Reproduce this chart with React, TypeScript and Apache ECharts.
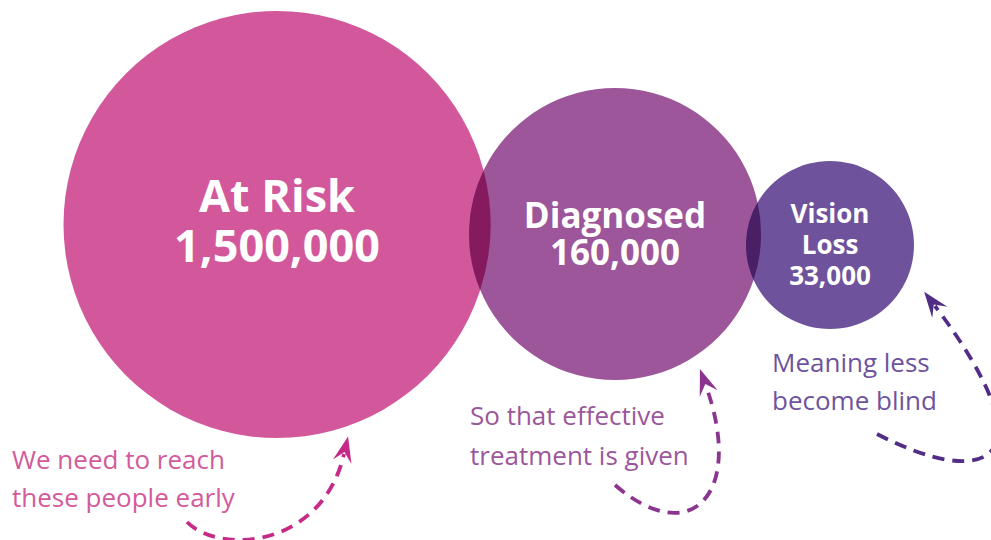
import React, { useEffect, useRef } from "react";
import * as echarts from "echarts";

// ---- data ----
const categories = ["At Risk", "Diagnosed", "Vision Loss"];
const peopleCounts = [1500000, 160000, 33000];
const captionLines = [
  ["We need to reach", "these people early"],
  ["So that effective", "treatment is given"],
  ["Meaning less", "become blind"],
];

// ---- layout & style (pixel space of the 991x540 canvas) ----
const W = 991;
const H = 540;
const bubbleLayout = [
  { cx: 277, cy: 224.5, r: 213.5, color: "#D3589B", fontSize: 45, blockOffset: -5, lineHeight: 50, wrap: false },
  { cx: 615, cy: 234, r: 146, color: "#9C5699", fontSize: 35, blockOffset: -1.5, lineHeight: 37, wrap: false },
  { cx: 830, cy: 245, r: 84, color: "#6E539C", fontSize: 26, blockOffset: -1, lineHeight: 31, wrap: true },
];
const overlapColors = ["", "#861A5E", "#4A1F66"];
const captionLayout = [
  { x: 12, y: 459, lineHeight: 38, color: "#D35A9B" },
  { x: 470, y: 415, lineHeight: 40, color: "#9B579B" },
  { x: 772, y: 362, lineHeight: 38, color: "#6E539C" },
];
const arrowLayout = [
  { p0: [187, 522], p1: [220, 555], p2: [322, 548], p3: [344, 454], color: "#C62A87" },
  { p0: [615, 485], p1: [690, 550], p2: [745, 495], p3: [706, 386], color: "#8B3590" },
  { p0: [877, 434], p1: [985, 490], p2: [1055, 465], p3: [935, 306], color: "#512D86" },
];

const FONT = '"Open Sans", "Noto Sans", sans-serif';

function arrowElements() {
  const els: any[] = [];
  arrowLayout.forEach((a) => {
    els.push({
      type: "bezierCurve",
      shape: {
        x1: a.p0[0], y1: a.p0[1],
        cpx1: a.p1[0], cpy1: a.p1[1],
        cpx2: a.p2[0], cpy2: a.p2[1],
        x2: a.p3[0], y2: a.p3[1],
      },
      style: { stroke: a.color, lineWidth: 3.8, lineDash: [12, 8], fill: null },
      silent: true,
    });
    const dx = a.p3[0] - a.p2[0];
    const dy = a.p3[1] - a.p2[1];
    const len = Math.sqrt(dx * dx + dy * dy);
    const ux = dx / len;
    const uy = dy / len;
    const px = -uy;
    const py = ux;
    const tip = [a.p3[0] + ux * 18, a.p3[1] + uy * 18];
    const back = 26;
    const half = 9.5;
    const notch = 16;
    els.push({
      type: "polygon",
      shape: {
        points: [
          tip,
          [tip[0] - ux * back + px * half, tip[1] - uy * back + py * half],
          [tip[0] - ux * notch, tip[1] - uy * notch],
          [tip[0] - ux * back - px * half, tip[1] - uy * back - py * half],
        ],
      },
      style: { fill: a.color },
      silent: true,
    });
  });
  return els;
}

function captionElements() {
  const els: any[] = [];
  captionLines.forEach((lines, i) => {
    const c = captionLayout[i];
    els.push({
      type: "text",
      x: c.x,
      y: c.y - c.lineHeight / 2,
      style: {
        text: lines.join("\n"),
        fill: c.color,
        fontSize: 26,
        lineHeight: c.lineHeight,
        fontFamily: FONT,
        fontWeight: "normal",
        textAlign: "left",
        textVerticalAlign: "top",
        align: "left",
        verticalAlign: "top",
      },
      silent: true,
    });
  });
  return els;
}

function lensPath(x1: number, y1: number, r1: number, x2: number, y2: number, r2: number) {
  const dx = x2 - x1;
  const dy = y2 - y1;
  const d = Math.sqrt(dx * dx + dy * dy);
  const a = (r1 * r1 - r2 * r2 + d * d) / (2 * d);
  const h = Math.sqrt(Math.max(r1 * r1 - a * a, 0));
  const ex = dx / d;
  const ey = dy / d;
  const px = x1 + a * ex;
  const py = y1 + a * ey;
  const top = [px + h * ey, py - h * ex];
  const bot = [px - h * ey, py + h * ex];
  return (
    `M${top[0]} ${top[1]} ` +
    `A${r1} ${r1} 0 0 1 ${bot[0]} ${bot[1]} ` +
    `A${r2} ${r2} 0 0 1 ${top[0]} ${top[1]} Z`
  );
}

export default function App() {
  const ref = useRef<HTMLDivElement>(null);

  useEffect(() => {
    document.body.style.margin = "0";
    if (!ref.current) return;
    const chart = echarts.init(ref.current, undefined, { renderer: "svg" });

    const seriesData = categories.map((name, i) => ({
      name,
      value: [bubbleLayout[i].cx, bubbleLayout[i].cy, bubbleLayout[i].r, peopleCounts[i]],
    }));

    chart.setOption({
      animation: false,
      backgroundColor: "#ffffff",
      grid: { left: 0, right: 0, top: 0, bottom: 0 },
      xAxis: { type: "value", min: 0, max: W, show: false },
      yAxis: { type: "value", min: 0, max: H, inverse: true, show: false },
      series: [
        {
          type: "custom",
          coordinateSystem: "cartesian2d",
          data: seriesData,
          silent: true,
          renderItem: (params: any, api: any) => {
            const i = params.dataIndex;
            const L = bubbleLayout[i];
            const c = api.coord([api.value(0), api.value(1)]);
            const r = api.size([api.value(2), 0])[0];
            const children: any[] = [
              { type: "circle", shape: { cx: c[0], cy: c[1], r }, style: { fill: L.color } },
            ];
            if (i > 0) {
              const P = bubbleLayout[i - 1];
              const pc = api.coord([P.cx, P.cy]);
              const pr = api.size([P.r, 0])[0];
              children.push({
                type: "path",
                shape: { pathData: lensPath(pc[0], pc[1], pr, c[0], c[1], r) },
                style: { fill: overlapColors[i] },
              });
            }
            const name = categories[i];
            const nameLines = L.wrap ? name.split(" ") : [name];
            const lines = [...nameLines, Number(api.value(3)).toLocaleString("en-US")];
            children.push({
              type: "text",
              x: c[0],
              y: c[1] + L.blockOffset,
              style: {
                text: lines.join("\n"),
                fill: "#ffffff",
                fontSize: L.fontSize,
                lineHeight: L.lineHeight,
                fontWeight: "bold",
                fontFamily: FONT,
                align: "center",
                verticalAlign: "middle",
              },
            });
            return { type: "group", children };
          },
        },
      ],
      graphic: { elements: [...arrowElements(), ...captionElements()] },
    });

    return () => chart.dispose();
  }, []);

  return (
    <div
      ref={ref}
      style={{ width: W, height: H, position: "absolute", left: 0, top: 0 }}
    />
  );
}
